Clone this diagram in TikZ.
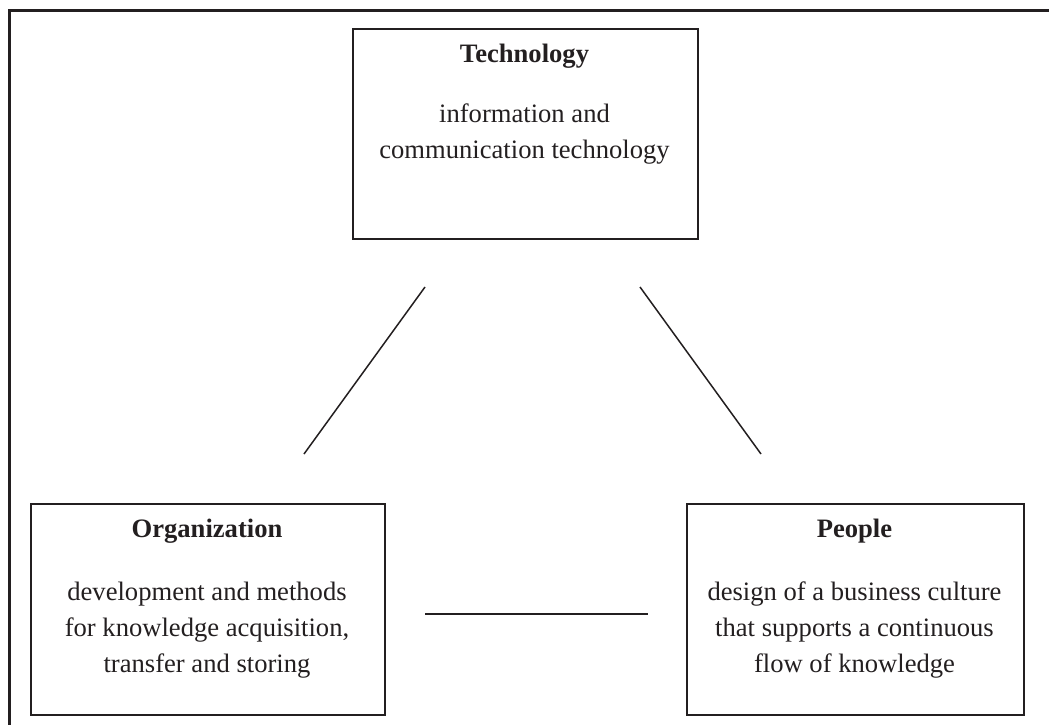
\documentclass[tikz,border=0pt]{standalone}
\usepackage{fontspec}
\setmainfont{Liberation Serif}
\definecolor{ink}{HTML}{231F20}
\begin{document}
\begin{tikzpicture}[x=1pt,y=-1pt,
  box/.style={draw=ink,line width=1.8pt,inner sep=0pt,anchor=north west},
  title/.style={font=\fontsize{26.6}{36}\selectfont\bfseries,text=ink,anchor=base,inner sep=0pt},
  body/.style={font=\fontsize{26.6}{36}\selectfont,text=ink,anchor=base,inner sep=0pt},
  link/.style={draw=ink,line width=1.5pt}]
\useasboundingbox (0,0) rectangle (1049,725);
% outer frame (top and left edges)
\draw[ink,line width=3pt] (9.5,725) -- (9.5,10.5) -- (1049,10.5);
% boxes
\node[box,minimum width=345pt,minimum height=210pt] (tech) at (352,28) {};
\node[box,minimum width=354pt,minimum height=211pt] (org) at (30,503) {};
\node[box,minimum width=337pt,minimum height=211pt] (ppl) at (686,503) {};
% titles
\node[title] (techT) at (524.5,63) {Technology};
\node[title] (orgT) at (207,537) {Organization};
\node[title] (pplT) at (854.5,537) {People};
% descriptions, one node per line
\node[body] (techL1) at (524.5,122) {information and};
\node[body] (techL2) at (524.5,158) {communication technology};
\node[body] (orgL1) at (207,600) {development and methods};
\node[body] (orgL2) at (207,636) {for knowledge acquisition,};
\node[body] (orgL3) at (207,672) {transfer and storing};
\node[body] (pplL1) at (854.5,600) {design of a business culture};
\node[body] (pplL2) at (854.5,636) {that supports a continuous};
\node[body] (pplL3) at (854.5,672) {flow of knowledge};
% connectors between the three areas
\coordinate (to1) at (425,287);
\coordinate (to2) at (304,454);
\coordinate (tp1) at (640,287);
\coordinate (tp2) at (761,454);
\coordinate (op1) at (425,614);
\coordinate (op2) at (648,614);
\draw[link] (to1) -- (to2);
\draw[link] (tp1) -- (tp2);
\draw[link,line width=2.2pt] (op1) -- (op2);
\end{tikzpicture}
\end{document}
